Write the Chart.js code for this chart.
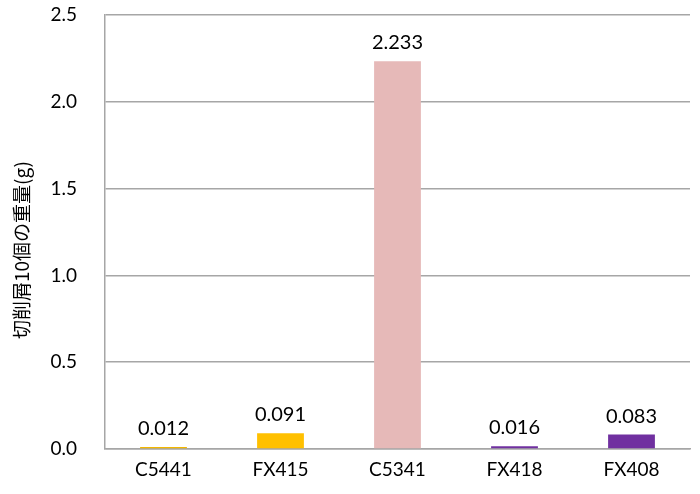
<!DOCTYPE html>
<html><head><meta charset="utf-8">
<script src="https://cdn.jsdelivr.net/npm/chart.js@4"></script>
<style>html,body{margin:0;padding:0;background:#fff;}#wrap{width:700px;height:494px;}</style>
</head><body><div id="wrap"><canvas id="c" width="700" height="494"></canvas></div>
<script>
const categories = ["C5441", "FX415", "C5341", "FX418", "FX408"];
const weights = [0.012, 0.091, 2.233, 0.016, 0.083];
const barColors = ["#F2B600", "#FFC000", "#E6B9B8", "#7030A0", "#7030A0"];
const yTitle = "切削屑10個の重量(g)";
const yMin = 0, yMax = 2.5, yStep = 0.5;

const FONT = "Lato, 'Noto Sans CJK JP', sans-serif";

const labelPlugin = {
  id: 'labels',
  afterDatasetsDraw(chart) {
    const ctx = chart.ctx;
    const meta = chart.getDatasetMeta(0);
    ctx.save();
    ctx.font = "20px " + FONT;
    ctx.fillStyle = "#000";
    ctx.textAlign = "center";
    ctx.textBaseline = "alphabetic";
    meta.data.forEach((bar, i) => {
      ctx.fillText(weights[i].toFixed(3), bar.x, bar.y - 12);
    });
    // y axis title
    ctx.translate(22, 250);
    ctx.rotate(-Math.PI / 2);
    ctx.font = "19px 'Noto Sans CJK JP', sans-serif";
    ctx.textBaseline = "middle";
    ctx.fillText(yTitle, 0, 0);
    ctx.restore();
  }
};

new Chart(document.getElementById('c'), {
  type: 'bar',
  data: {
    labels: categories,
    datasets: [{
      data: weights,
      backgroundColor: barColors,
      borderWidth: 0,
      barPercentage: 0.8,
      categoryPercentage: 0.5
    }]
  },
  options: {
    responsive: false,
    animation: false,
    devicePixelRatio: 1,
    layout: { padding: { top: 15, right: 10, left: 0, bottom: 0 } },
    plugins: { legend: { display: false }, tooltip: { enabled: false } },
    scales: {
      x: {
        grid: { display: false, drawTicks: false },
        border: { display: true, color: "#a6a6a6", width: 1.5 },
        ticks: { color: "#000", font: { size: 19, family: FONT }, padding: 9 },
        afterFit(s) { s.height = 45; s.paddingLeft = 0; s.paddingRight = 0; }
      },
      y: {
        min: yMin, max: yMax,
        grid: { color: "#a6a6a6", lineWidth: 1.5, drawTicks: false },
        border: { display: true, color: "#a6a6a6", width: 1.5 },
        ticks: {
          stepSize: yStep, color: "#000", padding: 28,
          font: { size: 19, family: FONT },
          callback: v => Number(v).toFixed(1)
        },
        afterFit(s) { s.width = 105; s.paddingTop = 0; s.paddingBottom = 0; }
      }
    }
  },
  plugins: [labelPlugin]
});
</script></body></html>
